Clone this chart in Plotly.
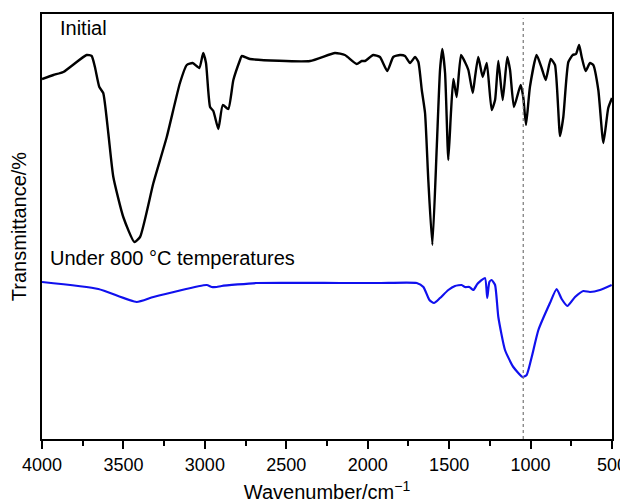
import plotly.graph_objects as go

# Wavenumbers (cm^-1) and transmittance (arbitrary units)
initial_wn = [4000, 3930, 3869, 3726, 3695, 3675, 3648, 3624, 3593, 3562, 3501, 3433, 3398, 3316, 3234,
              3153, 3111, 3075, 3034, 3010, 2993, 2968, 2948, 2917, 2890, 2856, 2825, 2784, 2774, 2723,
              2354, 2201, 2140, 2068, 2037, 2017, 1966, 1925, 1880, 1843, 1802, 1771, 1740, 1709, 1689,
              1668, 1648, 1628, 1603, 1576, 1556, 1542, 1525, 1505, 1489, 1474, 1454, 1427, 1403, 1382,
              1355, 1341, 1321, 1294, 1269, 1239, 1218, 1198, 1171, 1143, 1126, 1102, 1061, 1045, 1028,
              1004, 963, 932, 907, 876, 850, 819, 799, 768, 741, 721, 702, 686, 662, 635, 615, 584, 553,
              523, 500]
initial_t = [360, 364, 367, 384, 383, 372, 352, 346, 306, 262, 222, 197, 202, 256, 302,
             356, 374, 376, 371, 386, 376, 332, 328, 310, 334, 330, 359, 379, 383, 380,
             378, 386, 384, 375, 378, 378, 384, 382, 368, 382, 384, 383, 376, 382, 377,
             349, 326, 259, 194, 292, 369, 390, 366, 279, 326, 360, 342, 384, 377, 369,
             346, 362, 382, 362, 376, 329, 339, 378, 339, 382, 369, 332, 354, 342, 314,
             352, 384, 371, 359, 380, 374, 303, 322, 377, 384, 385, 394, 382, 368, 376, 374, 349, 296,
             331, 341]

heated_wn = [4000, 3654, 3419, 3316, 2989, 2958, 2927, 2897, 2682, 2170, 1925, 1699, 1658, 1621, 1593,
             1556, 1505, 1464, 1423, 1403, 1376, 1351, 1327, 1280, 1266, 1253, 1239, 1218, 1198, 1157,
             1106, 1048, 1024, 993, 952, 881, 840, 809, 774, 727, 676, 635, 574, 502]
heated_t = [157, 150, 137, 142, 154, 152, 152, 153, 156, 156, 156, 156, 152, 139, 136,
            141, 149, 153, 154, 152, 152, 149, 155, 161, 141, 157, 159, 154, 122, 89,
            72, 62, 64, 82, 109, 136, 150, 140, 133, 142, 148, 147, 149, 154]

marker_wn = 1045
x_ticks = [4000, 3500, 3000, 2500, 2000, 1500, 1000, 500]

FONT = "Liberation Sans, Arial, sans-serif"

fig = go.Figure()
fig.add_trace(go.Scatter(x=initial_wn, y=initial_t, mode="lines",
                         line=dict(color="black", width=2.4, shape="spline", smoothing=0.5),
                         name="Initial", showlegend=False))
fig.add_trace(go.Scatter(x=heated_wn, y=heated_t, mode="lines",
                         line=dict(color="#1010ee", width=2.2, shape="spline", smoothing=0.5),
                         name="Under 800 °C temperatures", showlegend=False))

fig.add_shape(type="line", x0=marker_wn, x1=marker_wn, xref="x", yref="paper", y0=0, y1=0.99,
              line=dict(color="#777777", width=1.2, dash="dot"))

fig.add_annotation(x=0.028, y=0.966, xref="paper", yref="paper", text="Initial", showarrow=False,
                   xanchor="left", yanchor="middle", font=dict(family=FONT, size=20, color="black"))
fig.add_annotation(x=0.011, y=0.425, xref="paper", yref="paper", text="Under 800 °C temperatures",
                   showarrow=False, xanchor="left", yanchor="middle",
                   font=dict(family=FONT, size=20, color="black"))

fig.update_xaxes(range=[4000, 500], tickvals=x_ticks, ticktext=[str(v) for v in x_ticks],
                 ticks="outside", ticklen=8, tickwidth=1.5, tickcolor="black", automargin=False,
                 ticklabeloverflow="allow",
                 minor=dict(dtick=250, tick0=500, ticks="outside", ticklen=5, tickwidth=1.5, tickcolor="black"),
                 showline=True, linecolor="black", linewidth=2, mirror=True, showgrid=False, zeroline=False,
                 tickfont=dict(family=FONT, size=18, color="black"),
                 title=dict(text="Wavenumber/cm<sup>−1</sup>", font=dict(family=FONT, size=20, color="black"),
                            standoff=14))
fig.update_yaxes(range=[0, 425], showticklabels=False, ticks="", showline=True, linecolor="black",
                 linewidth=2, mirror=True, showgrid=False, zeroline=False, automargin=False,
                 title=dict(text="Transmittance/%", font=dict(family=FONT, size=20, color="black"),
                            standoff=19))

# page body adds an 8px offset, so the figure is sized to fit the 628x503 window
fig.update_layout(width=620, height=495, margin=dict(l=34, r=16, t=6, b=64),
                  plot_bgcolor="white", paper_bgcolor="white")

fig.write_html("out.html")
